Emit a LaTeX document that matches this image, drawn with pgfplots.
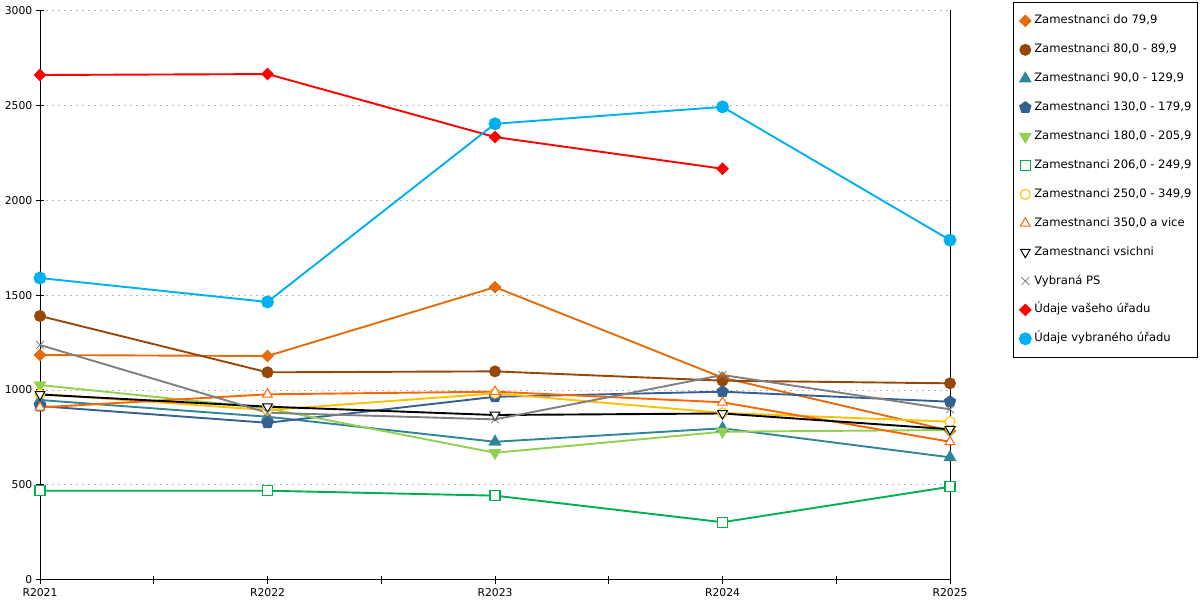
\documentclass[border=0pt]{standalone}
\usepackage{fontspec}
\setmainfont{DejaVu Sans}
\usepackage{pgfplots}
\pgfplotsset{compat=1.18}
\definecolor{cA}{RGB}{228,108,10}
\definecolor{cB}{RGB}{150,72,10}
\definecolor{cC}{RGB}{49,133,155}
\definecolor{cD}{RGB}{54,96,146}
\definecolor{cE}{RGB}{146,208,80}
\definecolor{cF}{RGB}{0,176,80}
\definecolor{cG}{RGB}{255,192,0}
\definecolor{cH}{RGB}{255,102,0}
\definecolor{cI}{RGB}{0,0,0}
\definecolor{cJ}{RGB}{128,128,128}
\definecolor{cK}{RGB}{255,0,0}
\definecolor{cL}{RGB}{0,176,240}
\begin{document}
\begin{tikzpicture}[x=1pt,y=1pt]
\path[use as bounding box] (0,0) rectangle (1200,600);
\begin{axis}[
  at={(40pt,20.3pt)}, anchor=south west,
  scale only axis, width=910pt, height=569.2pt,
  xmin=0, xmax=4, ymin=0, ymax=3000,
  clip=false,
  axis x line*=bottom, axis y line*=left,
  axis line style={black, line width=1pt},
  xtick={0,1,2,3,4},
  xticklabels={R2021,R2022,R2023,R2024,R2025},
  minor xtick={0.5,1.5,2.5,3.5},
  ytick={0,500,1000,1500,2000,2500,3000},
  tick align=center, major tick length=8pt, minor tick length=8pt,
  every tick/.style={black, line width=1pt},
  tick label style={font=\fontsize{10.8}{12}\selectfont, inner sep=0pt},
  yticklabel style={xshift=-3.5pt},
  xticklabel style={yshift=-4.5pt},
  /pgf/number format/assume math mode=true,
  /pgf/number format/1000 sep={},
  ymajorgrids,
  major grid style={draw=black!28, dash pattern=on 2pt off 4pt, line width=0.8pt},
  every axis plot/.append style={line width=1.9pt},
  mark size=5pt,
  legend cell align=left,
  legend style={at={(1.0692,1.0149)}, anchor=north west, draw=black, line width=0.8pt,
    font=\fontsize{11.6}{14}\selectfont,
    inner xsep=6pt, inner ysep=12.5pt, row sep=16.9pt,
    nodes={inner sep=0pt, text height=9pt, text depth=3pt},
    /tikz/every odd column/.append style={column sep=3pt}},
  legend image code/.code={\path (-5pt,0pt) (5pt,0pt); \draw[#1] plot coordinates {(0pt,0pt)};},
]
\addplot[cA, mark=diamond*, mark options={solid, xscale=1.35}] coordinates {(0,1184) (1,1179) (2,1542) (3,1065) (4,785)};
\addlegendentry{Zamestnanci do 79,9}
\addplot[cB, mark=*, mark options={solid}] coordinates {(0,1390) (1,1093) (2,1098) (3,1049) (4,1035)};
\addlegendentry{Zamestnanci 80,0 - 89,9}
\addplot[cC, mark=triangle*, mark size=5.6pt, mark options={solid}] coordinates {(0,947) (1,859) (2,727) (3,798) (4,645)};
\addlegendentry{Zamestnanci 90,0 - 129,9}
\addplot[cD, mark=pentagon*, mark size=5.4pt, mark options={solid}] coordinates {(0,915) (1,827) (2,964) (3,991) (4,938)};
\addlegendentry{Zamestnanci 130,0 - 179,9}
\addplot[cE, mark=triangle*, mark size=5.6pt, mark options={solid, rotate=180}] coordinates {(0,1026) (1,903) (2,669) (3,780) (4,789)};
\addlegendentry{Zamestnanci 180,0 - 205,9}
\addplot[cF, mark=square*, mark size=5pt, mark options={solid, draw=cF, fill=white, line width=1.1pt}] coordinates {(0,469) (1,469) (2,443) (3,303) (4,490)};
\addlegendentry{Zamestnanci 206,0 - 249,9}
\addplot[cG, mark=*, mark size=5pt, mark options={solid, draw=cG, fill=white, line width=1pt}] coordinates {(0,979) (1,894) (2,982) (3,879) (4,833)};
\addlegendentry{Zamestnanci 250,0 - 349,9}
\addplot[cH, mark=triangle*, mark size=5.6pt, mark options={solid, draw=cH, fill=white, line width=1pt}] coordinates {(0,908) (1,977) (2,991) (3,935) (4,727)};
\addlegendentry{Zamestnanci 350,0 a vice}
\addplot[cI, mark=triangle*, mark size=5.6pt, mark options={solid, draw=cI, fill=white, line width=1pt, rotate=180}] coordinates {(0,976) (1,912) (2,868) (3,876) (4,793)};
\addlegendentry{Zamestnanci vsichni}
\addplot[cJ, mark=x, mark size=5.5pt, mark options={solid, line width=0.8pt}] coordinates {(0,1237) (1,880) (2,845) (3,1079) (4,898)};
\addlegendentry{Vybraná PS}
\addplot[cK, mark=diamond*, mark options={solid, xscale=1.35}] coordinates {(0,2660) (1,2665) (2,2333) (3,2166)};
\addlegendentry{Údaje vašeho úřadu}
\addplot[cL, mark=*, mark size=5.5pt, mark options={solid}] coordinates {(0,1590) (1,1464) (2,2403) (3,2492) (4,1790)};
\addlegendentry{Údaje vybraného úřadu}
\draw[black, line width=1pt] (axis cs:4,0) -- (axis cs:4,3000);
\end{axis}
\end{tikzpicture}
\end{document}
